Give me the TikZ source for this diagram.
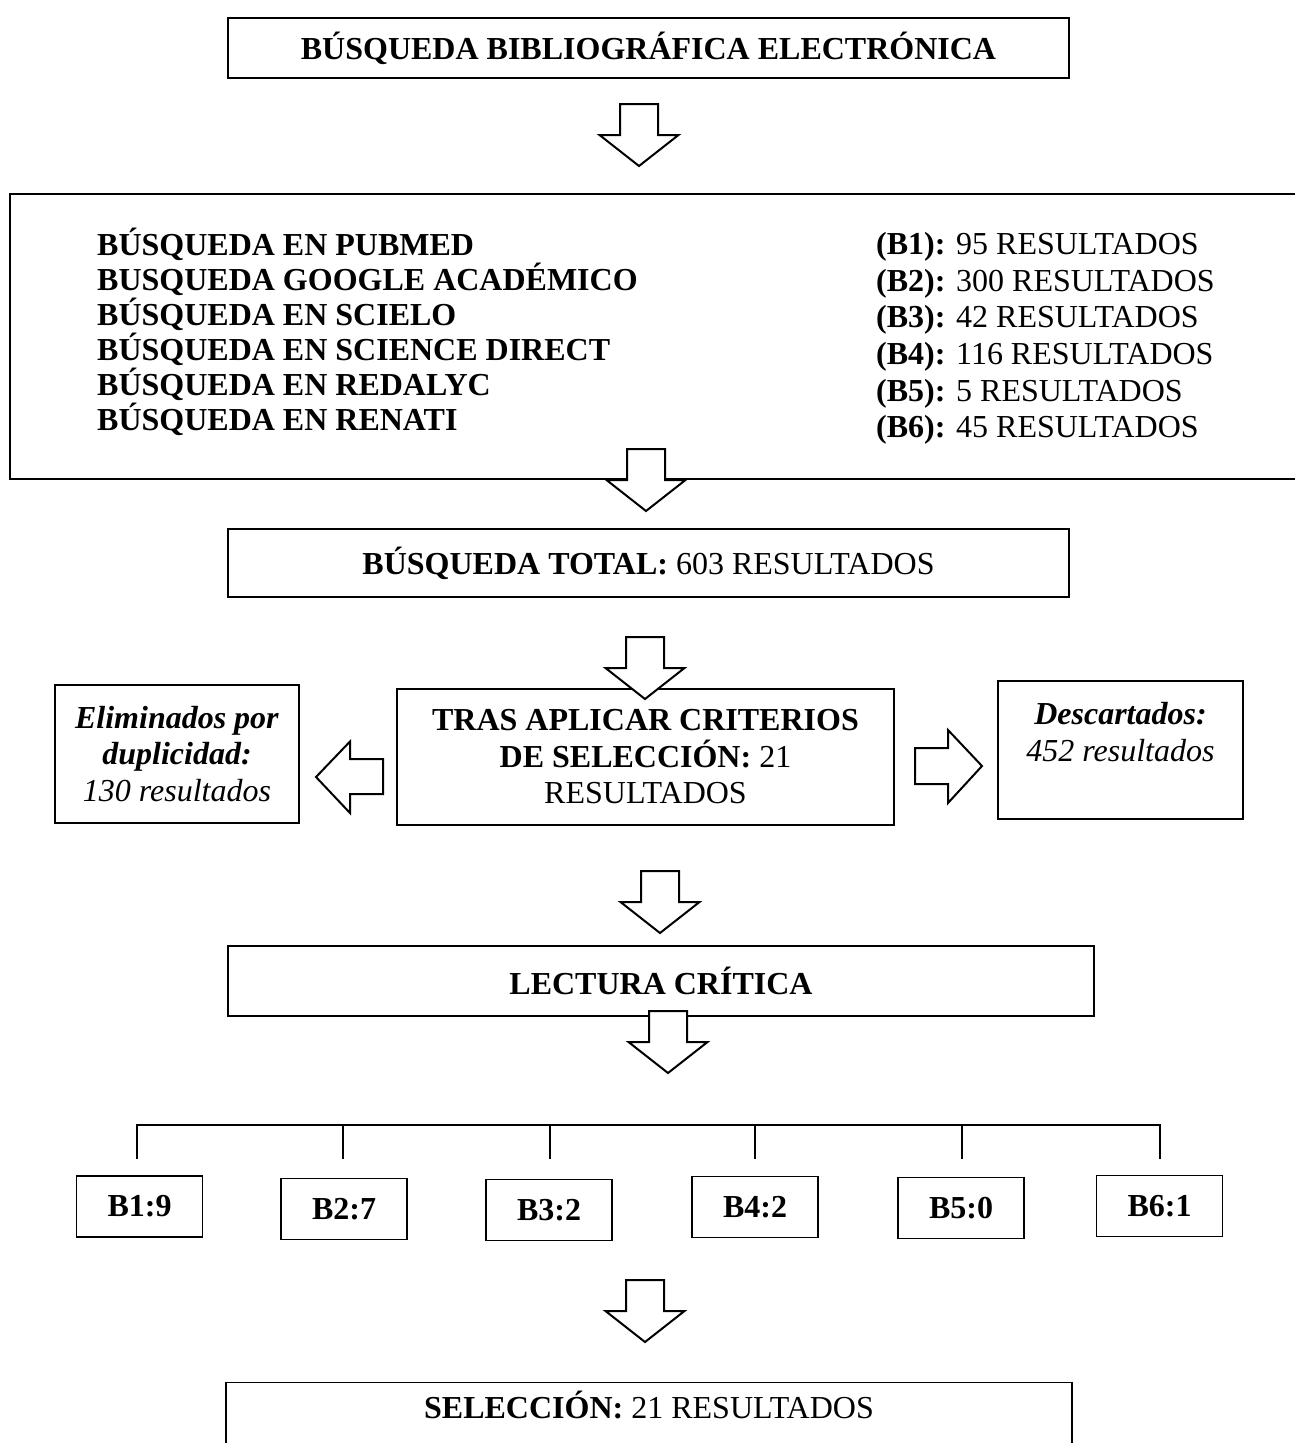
\documentclass[tikz,border=0pt]{standalone}
\usepackage{fontspec}
\setmainfont{Liberation Serif}
\newcommand\myfs{\fontsize{32pt}{36.5pt}\selectfont}
\newcommand\myfsl{\fontsize{32pt}{35pt}\selectfont}
\newcommand\myfsr{\fontsize{32pt}{36.6pt}\selectfont}
\tikzset{
  box/.style={draw, line width=1.3pt, inner sep=0pt, align=center, font=\myfs},
  bigbox/.style={draw, line width=2.6pt, inner sep=0pt},
  coltext/.style={inner sep=0pt, align=left, anchor=west},
  bline/.style={line width=1.1pt},
  arrowline/.style={draw, line width=2pt, fill=white, line join=miter},
  pics/downarrow/.style={code={\path[arrowline] (-19,0) -- (19,0) -- (19,31) -- (39.5,31) -- (0,62) -- (-39.5,31) -- (-19,31) -- cycle;}},
  pics/leftarrow/.style={code={\path[arrowline] (0,0) -- (34,-35.5) -- (34,-18) -- (67,-18) -- (67,17) -- (34,17) -- (34,36) -- cycle;}},
  pics/rightarrow/.style={code={\path[arrowline] (0,0) -- (-34,-36) -- (-34,-18) -- (-67,-18) -- (-67,18) -- (-34,18) -- (-34,37) -- cycle;}}
}
\begin{document}
\begin{tikzpicture}[x=1pt,y=-1pt]
\useasboundingbox (0,0) rectangle (1295,1443);
\clip (0,0) rectangle (1295,1443);
\fill[white] (0,0) rectangle (1295,1443);

% boxes
\node[box, minimum width=841pt, minimum height=60pt] (top) at (648.5,48) {\textbf{BÚSQUEDA BIBLIOGRÁFICA ELECTRÓNICA}};

\node[bigbox, minimum width=1320pt, minimum height=285pt] (big) at (670,336.5) {};
\node[coltext, font=\myfsl] (srch) at (97,332) {\textbf{BÚSQUEDA EN PUBMED}\\\textbf{BUSQUEDA GOOGLE ACADÉMICO}\\\textbf{BÚSQUEDA EN SCIELO}\\\textbf{BÚSQUEDA EN SCIENCE DIRECT}\\\textbf{BÚSQUEDA EN REDALYC}\\\textbf{BÚSQUEDA EN RENATI}};
\node[coltext, font=\myfsr] (res) at (876,338.5) {\textbf{(B1):} 95 RESULTADOS\\\textbf{(B2):} 300 RESULTADOS\\\textbf{(B3):} 42 RESULTADOS\\\textbf{(B4):} 116 RESULTADOS\\\textbf{(B5):} 5 RESULTADOS\\\textbf{(B6):} 45 RESULTADOS};

\node[box, minimum width=841pt, minimum height=68pt] (total) at (648.5,563) {\textbf{BÚSQUEDA TOTAL:} 603 RESULTADOS};

\node[box, minimum width=497pt, minimum height=136pt] (tras) at (645.5,757) {\textbf{TRAS APLICAR CRITERIOS}\\\textbf{DE SELECCIÓN:} 21\\RESULTADOS};
\node[box, minimum width=244pt, minimum height=138pt] (elim) at (177,754) {\textbf{\textit{Eliminados por}}\\\textbf{\textit{duplicidad:}}\\\textit{130 resultados}};
\node[box, minimum width=245pt, minimum height=138pt] (desc) at (1120.5,750) {\textbf{\textit{Descartados:}}\\\textit{452 resultados}\\\mbox{}};

\node[box, minimum width=866pt, minimum height=70pt] (lect) at (661,981) {\textbf{LECTURA CRÍTICA}};

\node[box, minimum width=126pt, minimum height=61pt] (b1) at (139.5,1206.5) {\textbf{B1:9}};
\node[box, minimum width=126pt, minimum height=61pt] (b2) at (344,1209) {\textbf{B2:7}};
\node[box, minimum width=126pt, minimum height=61pt] (b3) at (549,1210) {\textbf{B3:2}};
\node[box, minimum width=126pt, minimum height=61pt] (b4) at (755,1207) {\textbf{B4:2}};
\node[box, minimum width=126pt, minimum height=61pt] (b5) at (961,1208) {\textbf{B5:0}};
\node[box, minimum width=126pt, minimum height=61pt] (b6) at (1159.5,1206) {\textbf{B6:1}};

\node[box, anchor=north, minimum width=846pt, text height=36pt, text depth=50pt] (sel) at (649,1382) {\textbf{SELECCIÓN:} 21 RESULTADOS};

% bracket
\coordinate (t1) at (137,1125); \coordinate (d1) at (137,1159);
\coordinate (t2) at (343,1125); \coordinate (d2) at (343,1159);
\coordinate (t3) at (550,1125); \coordinate (d3) at (550,1159);
\coordinate (t4) at (755,1125); \coordinate (d4) at (755,1159);
\coordinate (t5) at (962,1125); \coordinate (d5) at (962,1159);
\coordinate (t6) at (1160,1125); \coordinate (d6) at (1160,1159);
\draw[bline] (d1) -- (t1) -- (t6) -- (d6);
\draw[bline] (t2) -- (d2);
\draw[bline] (t3) -- (d3);
\draw[bline] (t4) -- (d4);
\draw[bline] (t5) -- (d5);

% block arrows
\pic at (639,104) {downarrow};
\pic at (646,449) {downarrow};
\pic at (645,637) {downarrow};
\pic at (660,871) {downarrow};
\pic at (668,1011) {downarrow};
\pic at (645,1280) {downarrow};
\pic at (316,777) {leftarrow};
\pic at (982,766) {rightarrow};
\end{tikzpicture}
\end{document}
